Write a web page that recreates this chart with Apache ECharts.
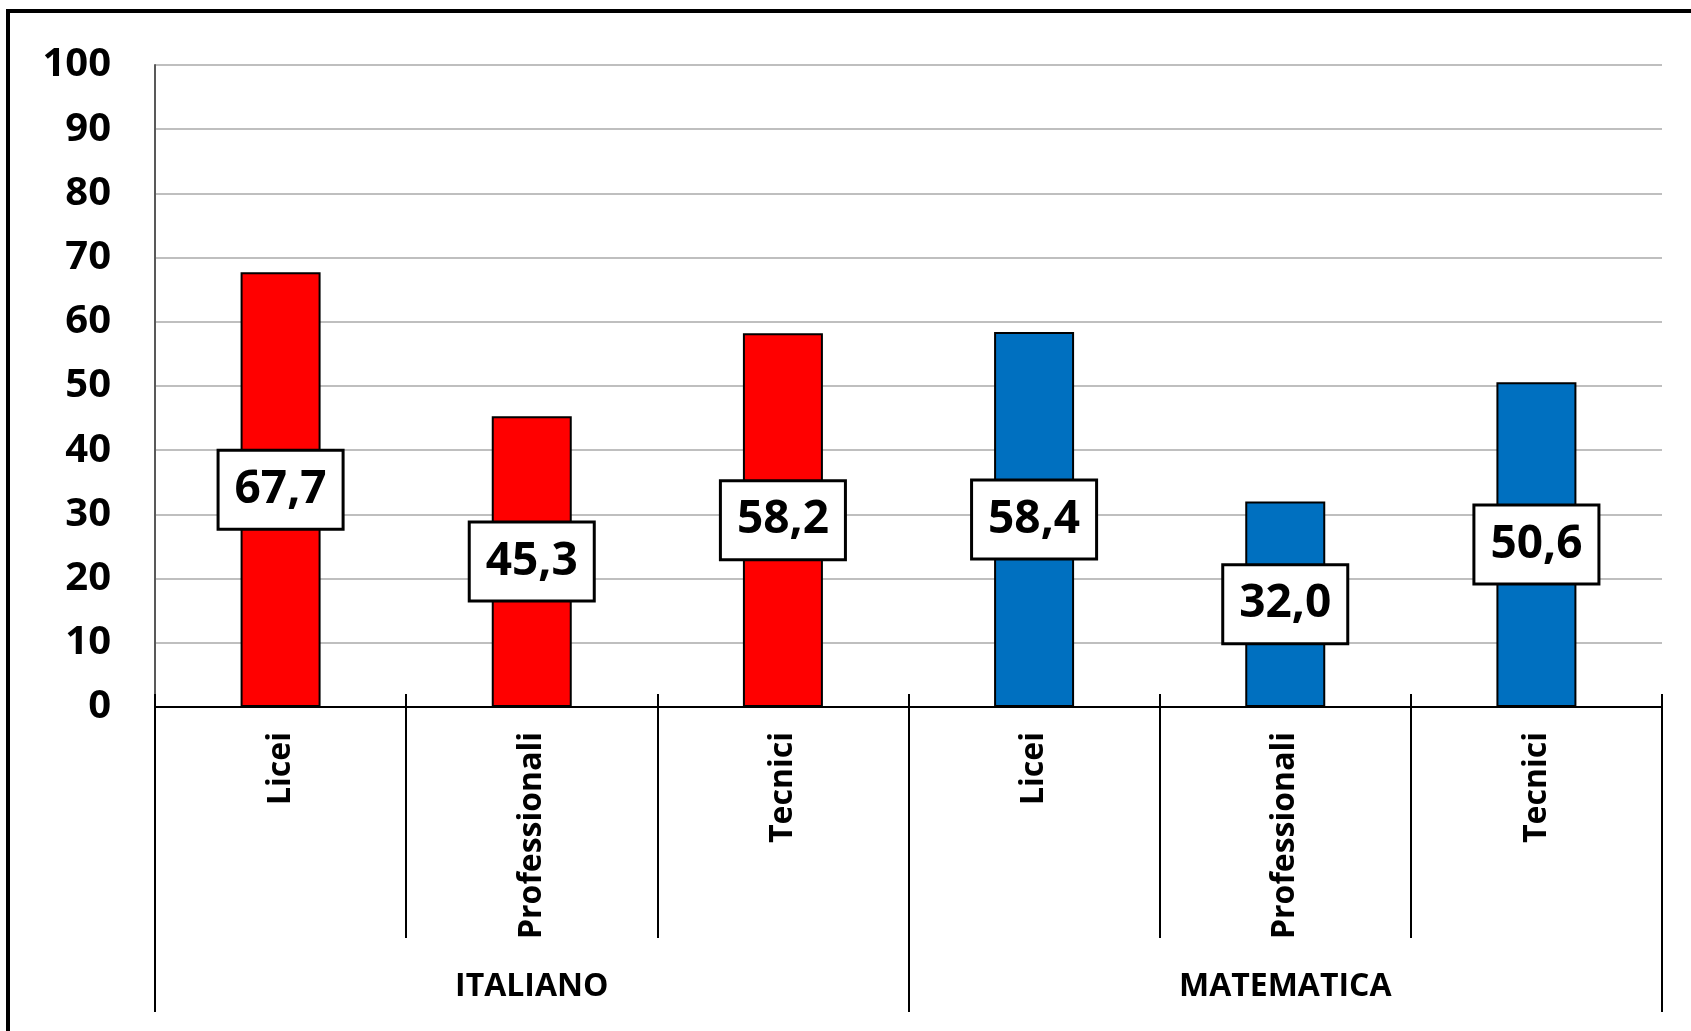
<!DOCTYPE html>
<html>
<head>
<meta charset="utf-8">
<script src="https://cdn.jsdelivr.net/npm/echarts@6/dist/echarts.min.js"></script>
<style>
html,body{margin:0;padding:0;background:#fff;overflow:hidden;}
#frame{position:absolute;left:6px;top:9px;width:1700px;height:1040px;border-top:4px solid #000;border-left:4px solid #000;box-sizing:border-box;}
#chart{position:absolute;left:0;top:0;width:1691px;height:1031px;}
</style>
</head>
<body>
<div id="frame"></div>
<div id="chart"></div>
<script>
const categories = ['Licei', 'Professionali', 'Tecnici', 'Licei', 'Professionali', 'Tecnici'];
const groups = ['ITALIANO', 'MATEMATICA'];
const values = [67.7, 45.3, 58.2, 58.4, 32.0, 50.6];
const barColors = ['#FF0000', '#FF0000', '#FF0000', '#0070C0', '#0070C0', '#0070C0'];
const yTicks = { min: 0, max: 100, interval: 10 };

const FONT = 'Open Sans';
const chart = echarts.init(document.getElementById('chart'), null, { renderer: 'canvas' });

const option = {
  backgroundColor: 'transparent',
  animation: false,
  grid: { left: 155, right: 29, top: 65, bottom: 324, containLabel: false },
  xAxis: [
    {
      type: 'category',
      data: categories,
      position: 'bottom',
      axisLine: { show: true, lineStyle: { color: '#000', width: 2 } },
      axisTick: { show: true, interval: 0, inside: false, length: 231, lineStyle: { color: '#000', width: 2 } },
      axisLabel: {
        interval: 0, rotate: 90, margin: 25,
        fontFamily: FONT, fontWeight: 'bold', fontSize: 32, color: '#000'
      },
      splitLine: { show: false }
    },
    {
      type: 'category',
      data: groups,
      position: 'bottom',
      axisLine: { show: false },
      axisTick: { show: true, interval: 0, inside: false, length: 305, lineStyle: { color: '#000', width: 2 } },
      axisLabel: {
        interval: 0, margin: 264,
        fontFamily: FONT, fontWeight: 'bold', fontSize: 32, color: '#000'
      },
      splitLine: { show: false }
    },
    {
      type: 'category',
      data: categories,
      position: 'bottom',
      axisLine: { show: false },
      axisTick: { show: true, interval: 0, inside: true, length: 13, lineStyle: { color: '#000', width: 2 } },
      axisLabel: { show: false },
      splitLine: { show: false }
    }
  ],
  yAxis: {
    type: 'value',
    min: yTicks.min, max: yTicks.max, interval: yTicks.interval,
    axisLine: { show: true, lineStyle: { color: '#595959', width: 2 } },
    axisTick: { show: false },
    axisLabel: {
      margin: 44, fontFamily: FONT, fontWeight: 'bold', fontSize: 40, color: '#000'
    },
    splitLine: { show: true, lineStyle: { color: '#BFBFBF', width: 2 } }
  },
  series: [{
    type: 'bar',
    xAxisIndex: 0,
    data: values.map((v, i) => ({ value: v, itemStyle: { color: barColors[i] } })),
    barWidth: 80,
    itemStyle: { borderColor: '#000', borderWidth: 2 },
    label: {
      show: true,
      position: 'inside',
      formatter: p => p.value.toFixed(1).replace('.', ','),
      fontFamily: FONT, fontWeight: 'bold', fontSize: 46, color: '#000',
      lineHeight: 50,
      backgroundColor: '#fff',
      borderColor: '#000', borderWidth: 3,
      padding: [15, 15, 11, 15]
    }
  }]
};
chart.setOption(option);
</script>
</body>
</html>
